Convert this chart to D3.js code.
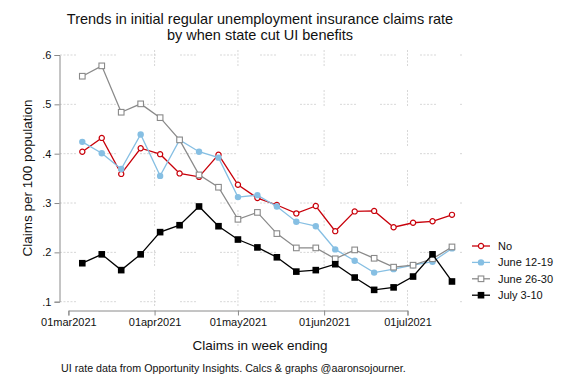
<!DOCTYPE html>
<html>
<head>
<meta charset="utf-8">
<script src="https://cdn.jsdelivr.net/npm/d3@7"></script>
<style>
  body { margin: 0; background: #fff; }
  svg { font-family: "Liberation Sans", Arial, sans-serif; }
</style>
</head>
<body>
<div id="chart"></div>
<script>
// Week-ending dates (Saturdays)
const weekEnding = [
  '2021-03-06', '2021-03-13', '2021-03-20', '2021-03-27', '2021-04-03',
  '2021-04-10', '2021-04-17', '2021-04-24', '2021-05-01', '2021-05-08',
  '2021-05-15', '2021-05-22', '2021-05-29', '2021-06-05', '2021-06-12',
  '2021-06-19', '2021-06-26', '2021-07-03', '2021-07-10', '2021-07-17',
];

const seriesNames = ['No', 'June 12-19', 'June 26-30', 'July 3-10'];

// Claims per 100 population
const noCut = [0.404, 0.432, 0.359, 0.411, 0.399, 0.360, 0.353, 0.398, 0.337, 0.310,
  0.296, 0.279, 0.294, 0.243, 0.283, 0.284, 0.251, 0.260, 0.263, 0.276];
const june1219 = [0.424, 0.401, 0.369, 0.439, 0.355, 0.428, 0.404, 0.392, 0.312, 0.316,
  0.293, 0.262, 0.253, 0.206, 0.183, 0.159, 0.166, 0.174, 0.181, 0.208];
const june2630 = [0.557, 0.578, 0.484, 0.501, 0.473, 0.428, 0.357, 0.332, 0.267, 0.281,
  0.238, 0.209, 0.209, 0.187, 0.205, 0.188, 0.170, 0.174, 0.187, 0.211];
const july310 = [0.178, 0.196, 0.164, 0.196, 0.241, 0.255, 0.293, 0.253, 0.226, 0.210,
  0.190, 0.161, 0.164, 0.176, 0.149, 0.124, 0.129, 0.151, 0.196, 0.141];

const yTicks = [0.1, 0.2, 0.3, 0.4, 0.5, 0.6];
const xTicks = ['2021-03-01', '2021-04-01', '2021-05-01', '2021-06-01', '2021-07-01'];

const parseDate = d3.utcParse('%Y-%m-%d');
const dates = weekEnding.map(parseDate);

const width = 576;
const height = 384;

const svg = d3.select('#chart')
  .append('svg')
  .attr('width', width)
  .attr('height', height);

const x = d3.scaleUtc()
  .domain([parseDate('2021-03-01'), parseDate('2021-07-01')])
  .range([68.4, 407.5]);

const y = d3.scaleLinear()
  .domain([0.1, 0.6])
  .range([301.7, 55]);

const plotLeft = 60;
const plotRight = 462;

// Gridlines: faint groups of fine dashes, like the Stata export
const grid = svg.append('g')
  .attr('stroke', '#cdcdcd')
  .attr('stroke-width', 0.8)
  .attr('stroke-dasharray', '2,1.5,2,1.5,2,1.5,2,1.5,2,24');

grid.selectAll('.hgrid')
  .data(yTicks)
  .enter()
  .append('line')
  .attr('x1', plotLeft)
  .attr('x2', plotRight)
  .attr('y1', (d) => y(d))
  .attr('y2', (d) => y(d));

grid.selectAll('.vgrid')
  .data(xTicks.slice(1).map(parseDate))
  .enter()
  .append('line')
  .attr('x1', (d) => x(d))
  .attr('x2', (d) => x(d))
  .attr('y1', 50)
  .attr('y2', 306);

// Axes
const yAxis = d3.axisLeft(y)
  .tickValues(yTicks)
  .tickSizeOuter(0)
  .tickSize(5)
  .tickPadding(3)
  .tickFormat((d) => d3.format('.1f')(d).replace(/^0/, ''));

svg.append('g')
  .attr('transform', 'translate(59.5, 0)')
  .call(yAxis)
  .call((g) => g.selectAll('path, line').attr('stroke', '#8a8a8a'))
  .call((g) => g.selectAll('text').style('font-size', '11px').attr('fill', '#111'));

const monthFmt = d3.utcFormat('%d%b%Y');
const xAxis = d3.axisBottom(x)
  .tickValues(xTicks.map(parseDate))
  .tickSizeOuter(0)
  .tickSize(5)
  .tickPadding(3)
  .tickFormat((d) => monthFmt(d).toLowerCase());

svg.append('g')
  .attr('transform', 'translate(0, 310.5)')
  .call(xAxis)
  .call((g) => g.selectAll('path, line').attr('stroke', '#8a8a8a'))
  .call((g) => g.selectAll('text').style('font-size', '11px').attr('fill', '#111'));

// Series
const colors = ['#c8000a', '#86bfe3', '#8a8a8a', '#000000'];
const allSeries = [noCut, june1219, june2630, july310];

const line = d3.line()
  .x((d, i) => x(dates[i]))
  .y((d) => y(d));

function drawMarker(sel, idx, color) {
  if (idx === 0) {
    sel.append('circle').attr('r', 2.6).attr('fill', 'white')
      .attr('stroke', color).attr('stroke-width', 1.2);
  } else if (idx === 1) {
    sel.append('circle').attr('r', 3.2).attr('fill', color);
  } else if (idx === 2) {
    sel.append('rect').attr('x', -2.8).attr('y', -2.8).attr('width', 5.6).attr('height', 5.6)
      .attr('fill', 'white').attr('stroke', color).attr('stroke-width', 1.1);
  } else {
    sel.append('rect').attr('x', -3.3).attr('y', -3.3).attr('width', 6.6).attr('height', 6.6)
      .attr('fill', color);
  }
}

allSeries.forEach((vals, idx) => {
  const g = svg.append('g');
  g.append('path')
    .datum(vals)
    .attr('fill', 'none')
    .attr('stroke', colors[idx])
    .attr('stroke-width', 1.3)
    .attr('d', line);
  g.selectAll('.pt')
    .data(vals)
    .enter()
    .append('g')
    .attr('transform', (d, i) => `translate(${x(dates[i])},${y(d)})`)
    .each(function () { drawMarker(d3.select(this), idx, colors[idx]); });
});

// Legend
const legend = svg.append('g');
seriesNames.forEach((name, idx) => {
  const ly = 246 + idx * 16.4;
  legend.append('line')
    .attr('x1', 472).attr('x2', 490)
    .attr('y1', ly).attr('y2', ly)
    .attr('stroke', colors[idx]).attr('stroke-width', 1.3);
  const m = legend.append('g').attr('transform', `translate(481,${ly})`);
  drawMarker(m, idx, colors[idx]);
  legend.append('text')
    .attr('x', 498)
    .attr('y', ly + 4)
    .style('font-size', '11px')
    .attr('fill', '#111')
    .text(name);
});

// Titles
const title = svg.append('text')
  .attr('text-anchor', 'middle')
  .style('font-size', '14.5px')
  .attr('fill', '#111');
title.append('tspan').attr('x', 260).attr('y', 24)
  .text('Trends in initial regular unemployment insurance claims rate');
title.append('tspan').attr('x', 260).attr('y', 40)
  .text('by when state cut UI benefits');

svg.append('text')
  .attr('transform', 'translate(32, 178) rotate(-90)')
  .attr('text-anchor', 'middle')
  .style('font-size', '13.5px')
  .attr('fill', '#111')
  .text('Claims per 100 population');

svg.append('text')
  .attr('x', 260)
  .attr('y', 350)
  .attr('text-anchor', 'middle')
  .style('font-size', '13.5px')
  .attr('fill', '#111')
  .text('Claims in week ending');

svg.append('text')
  .attr('x', 61)
  .attr('y', 372)
  .style('font-size', '10.7px')
  .attr('fill', '#111')
  .text('UI rate data from Opportunity Insights. Calcs & graphs @aaronsojourner.');
</script>
</body>
</html>
